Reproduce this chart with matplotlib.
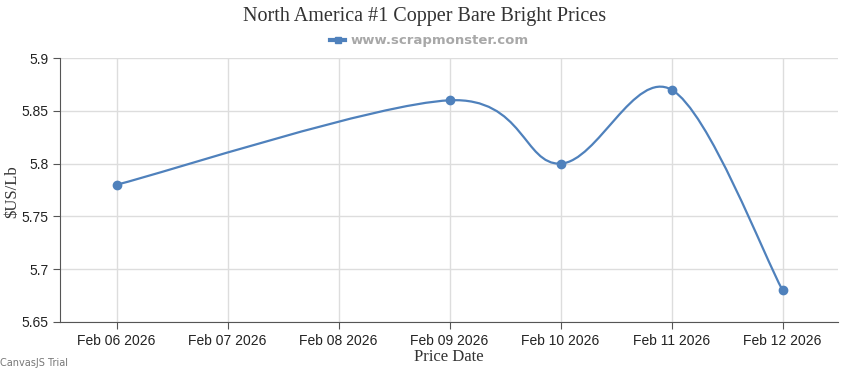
#!/usr/bin/env python3

import numpy as np
import matplotlib.pyplot as plt
from matplotlib.path import Path
from matplotlib.patches import PathPatch
from matplotlib.lines import Line2D

tick_labels = ['Feb 06 2026', 'Feb 07 2026', 'Feb 08 2026', 'Feb 09 2026',
               'Feb 10 2026', 'Feb 11 2026', 'Feb 12 2026']
dates = ['Feb 06 2026', 'Feb 09 2026', 'Feb 10 2026', 'Feb 11 2026', 'Feb 12 2026']
prices = [5.78, 5.86, 5.80, 5.87, 5.68]
yticks = [5.65, 5.7, 5.75, 5.8, 5.85, 5.9]

color = '#4F81BC'
xs = np.array([tick_labels.index(d) for d in dates], dtype=float)
ys = np.array(prices)


def bezier_path(x, y, tension=2.0):
    # cardinal spline as bezier segments
    n = len(x)
    verts = [(x[0], y[0])]
    codes = [Path.MOVETO]
    for i in range(1, n):
        p = i - 1
        a, b = max(p - 1, 0), min(p + 1, n - 1)
        c1 = (x[p] + (x[b] - x[a]) / tension / 3, y[p] + (y[b] - y[a]) / tension / 3)
        a, b = max(i - 1, 0), min(i + 1, n - 1)
        c2 = (x[i] - (x[b] - x[a]) / tension / 3, y[i] - (y[b] - y[a]) / tension / 3)
        verts += [c1, c2, (x[i], y[i])]
        codes += [Path.CURVE4] * 3
    return Path(verts, codes)


fig = plt.figure(figsize=(8.5, 3.7), dpi=100)
ax = fig.add_axes([0.0706, 0.130, 0.9154, 0.713])

ax.add_patch(PathPatch(bezier_path(xs, ys), facecolor='none', edgecolor=color, lw=1.6, zorder=3))
ax.scatter(xs, ys, s=36, color=color, zorder=4)

ax.set_xlim(-0.51, 6.5)
ax.set_ylim(5.65, 5.9)
ax.set_xticks(range(len(tick_labels)))
ax.set_xticklabels(tick_labels, family='Liberation Sans')
ax.set_yticks(yticks)
ax.set_yticklabels([f'{v:g}' for v in yticks], family='Liberation Sans')
ax.tick_params(labelsize=10, colors='#222222', length=5, color='#555555')
ax.tick_params(axis='y', pad=3)
ax.grid(True, color='#dddddd', lw=1)
ax.set_axisbelow(True)
for s in ['top', 'right']:
    ax.spines[s].set_visible(False)
for s in ['left', 'bottom']:
    ax.spines[s].set_color('#555555')

ax.set_xlabel('Price Date', fontsize=12, family='Liberation Serif', color='#333333', labelpad=1)
fig.text(12 / 850, 1 - 192 / 370, '$US/Lb', rotation=90, ha='center', va='center',
         fontsize=12, family='Liberation Serif', color='#333333')

fig.text(0.5, 0.955, 'North America #1 Copper Bare Bright Prices', ha='center', va='center',
         fontsize=14.5, family='Liberation Serif', color='#333333')
handle = Line2D([], [], color=color, lw=3, marker='s', markersize=5)
fig.legend([handle], ['www.scrapmonster.com'], loc='center', bbox_to_anchor=(0.505, 0.89),
           frameon=False, handlelength=1.2, handletextpad=0.4,
           prop={'size': 9.5, 'weight': 'bold'}, labelcolor='#a8a8a8')
fig.text(0.0, 0.018, 'CanvasJS Trial', fontsize=7, color='#777777', ha='left', va='center')

plt.savefig('out.png', dpi=100)
